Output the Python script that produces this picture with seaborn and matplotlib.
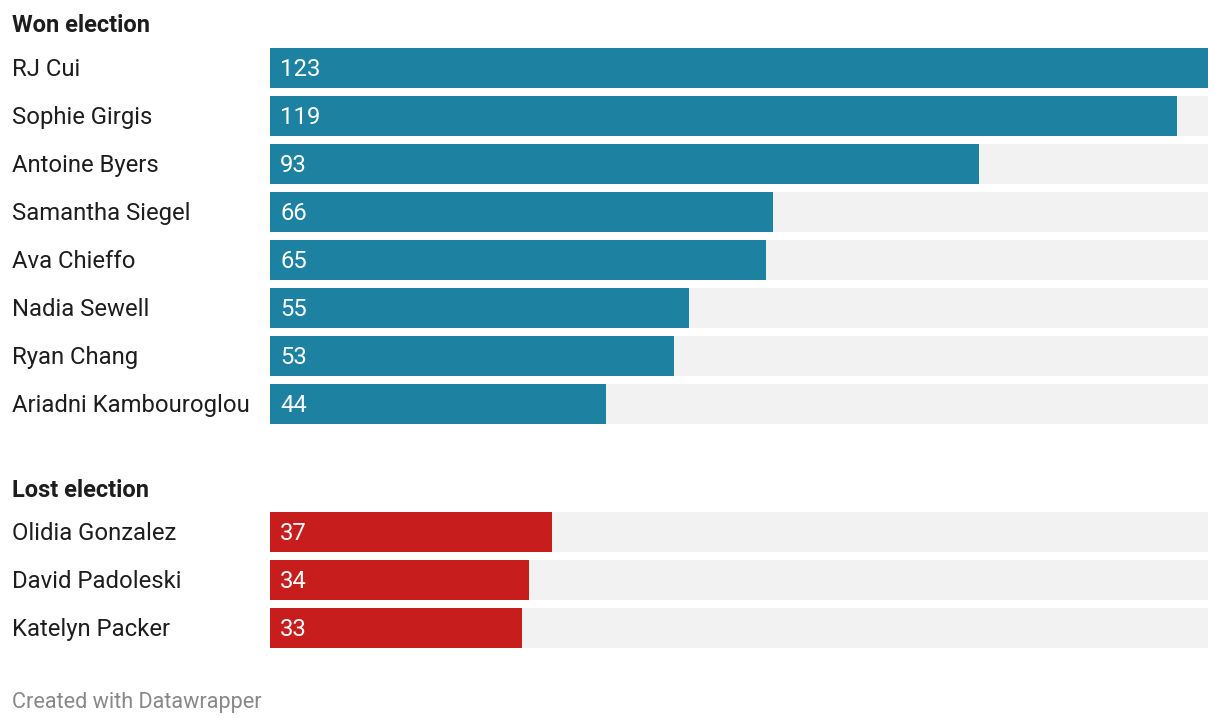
import matplotlib
matplotlib.use('Agg')
import matplotlib.pyplot as plt
import seaborn as sns
from matplotlib.transforms import blended_transform_factory

# Data
won_names = ['RJ Cui', 'Sophie Girgis', 'Antoine Byers', 'Samantha Siegel',
             'Ava Chieffo', 'Nadia Sewell', 'Ryan Chang', 'Ariadni Kambouroglou']
won_values = [123, 119, 93, 66, 65, 55, 53, 44]
lost_names = ['Olidia Gonzalez', 'David Padoleski', 'Katelyn Packer']
lost_values = [37, 34, 33]
max_value = 123

sns.set_style('white')
plt.rcParams['font.family'] = ['Roboto', 'DejaVu Sans']

W, H = 1220, 724
fig = plt.figure(figsize=(W / 100, H / 100), dpi=100)


def px_axes(left, top, width, height):
    return fig.add_axes([left / W, 1 - (top + height) / H, width / W, height / H])


def draw_group(ax, names, values, color):
    n = len(names)
    sns.barplot(x=[max_value] * n, y=names, color='#f2f2f2', width=40 / 48,
                orient='h', ax=ax, saturation=1, linewidth=0)
    sns.barplot(x=values, y=names, color=color, width=40 / 48,
                orient='h', ax=ax, saturation=1, linewidth=0)
    ax.set_xlim(0, max_value)
    ax.set_ylim(n - 0.5, -0.5)
    ax.axis('off')
    trans = blended_transform_factory(fig.transFigure, ax.transData)
    for i, (name, val) in enumerate(zip(names, values)):
        ax.annotate(name, xy=(12 / W, i), xycoords=trans, xytext=(0, 1.2),
                    textcoords='offset pixels', ha='left', va='center_baseline',
                    fontsize=17.2, color='#1d1d1d')
        ax.annotate(str(val), xy=(0, i), xytext=(10, 1.2), textcoords='offset pixels',
                    ha='left', va='center_baseline', fontsize=17.2, color='white')


ax_won = px_axes(270, 44, 938, 384)
draw_group(ax_won, won_names, won_values, '#1d81a2')

ax_lost = px_axes(270, 508, 938, 144)
draw_group(ax_lost, lost_names, lost_values, '#c71e1d')

fig.text(12 / W, 1 - 23 / H, 'Won election', ha='left', va='center_baseline',
         fontsize=17, fontweight='bold', color='#1d1d1d')
fig.text(12 / W, 1 - 488 / H, 'Lost election', ha='left', va='center_baseline',
         fontsize=17, fontweight='bold', color='#1d1d1d')
fig.text(12 / W, 1 - 700 / H, 'Created with Datawrapper', ha='left', va='center_baseline',
         fontsize=15.6, color='#888888')

fig.savefig('out.png', dpi=100, facecolor='white')
